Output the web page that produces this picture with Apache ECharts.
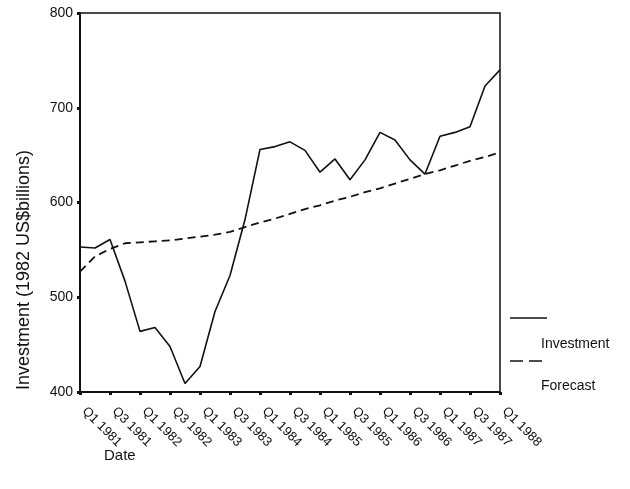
<!DOCTYPE html>
<html>
<head>
<meta charset="utf-8">
<style>
    html, body { margin: 0; padding: 0; background: #fff; }
    #chart { width: 630px; height: 489px; }
</style>
<script src="https://cdn.jsdelivr.net/npm/echarts@6/dist/echarts.min.js"></script>
</head>
<body>
<div id="chart"></div>
<script>
var quarters = [
    'Q1 1981', 'Q2 1981', 'Q3 1981', 'Q4 1981',
    'Q1 1982', 'Q2 1982', 'Q3 1982', 'Q4 1982',
    'Q1 1983', 'Q2 1983', 'Q3 1983', 'Q4 1983',
    'Q1 1984', 'Q2 1984', 'Q3 1984', 'Q4 1984',
    'Q1 1985', 'Q2 1985', 'Q3 1985', 'Q4 1985',
    'Q1 1986', 'Q2 1986', 'Q3 1986', 'Q4 1986',
    'Q1 1987', 'Q2 1987', 'Q3 1987', 'Q4 1987',
    'Q1 1988'
];
var investment = [553, 552, 561, 517, 464, 468, 448, 409, 427, 485, 523, 582, 656, 659, 664, 655, 632, 646, 624, 645, 674, 666, 645, 630, 670, 674, 680, 723, 740];
var forecast = [527, 543, 551, 557, 558, 559, 560, 562, 564, 566, 569, 574, 579, 583, 588, 593, 597, 602, 606, 611, 615, 620, 625, 630, 634, 639, 644, 648, 653];
var yTicks = [400, 500, 600, 700, 800];

(function (window) {
    "use strict";
    var font = '"Liberation Sans", Arial, Helvetica, sans-serif';
    var ink = '#111';

    var load = function () {
        var chart = echarts.init(document.getElementById('chart'));
        var option = {
            animation: false,
            backgroundColor: '#fff',
            grid: {
                left: 80, right: 130, top: 13, bottom: 97,
                show: true,
                borderColor: ink,
                borderWidth: 1.5
            },
            xAxis: {
                type: 'category',
                data: quarters,
                boundaryGap: false,
                axisLine: { lineStyle: { color: ink, width: 2 } },
                axisTick: {
                    interval: 1,
                    length: 3,
                    lineStyle: { color: ink, width: 3 }
                },
                axisLabel: {
                    interval: 1,
                    rotate: -45,
                    margin: 13,
                    padding: [0, 0, 0, 6],
                    color: ink,
                    fontFamily: font,
                    fontSize: 13
                },
                splitLine: { show: false }
            },
            yAxis: {
                type: 'value',
                min: yTicks[0],
                max: yTicks[yTicks.length - 1],
                interval: 100,
                axisLine: { show: true, lineStyle: { color: ink, width: 2 } },
                axisTick: {
                    show: true,
                    length: 3,
                    lineStyle: { color: ink, width: 3 }
                },
                axisLabel: {
                    margin: 7,
                    color: ink,
                    fontFamily: font,
                    fontSize: 14
                },
                splitLine: { show: false }
            },
            series: [{
                name: 'Investment',
                type: 'line',
                data: investment,
                symbol: 'none',
                lineStyle: { color: ink, width: 1.6 }
            }, {
                name: 'Forecast',
                type: 'line',
                data: forecast,
                symbol: 'none',
                lineStyle: { color: ink, width: 1.8, type: [8, 5] }
            }],
            graphic: [{
                // y axis title
                type: 'text',
                x: 24, y: 270,
                rotation: Math.PI / 2,
                style: {
                    text: 'Investment (1982 US$billions)',
                    fill: ink,
                    font: '18px ' + font,
                    align: 'center',
                    verticalAlign: 'middle'
                }
            }, {
                type: 'text',
                x: 104, y: 456,
                style: {
                    text: 'Date',
                    fill: ink,
                    font: '15px ' + font,
                    verticalAlign: 'middle'
                }
            }, {
                // legend, drawn by hand to keep the offset layout
                type: 'line',
                shape: { x1: 510, y1: 318, x2: 547, y2: 318 },
                style: { stroke: ink, lineWidth: 1.5 }
            }, {
                type: 'text',
                x: 541, y: 344,
                style: {
                    text: 'Investment',
                    fill: ink,
                    font: '14px ' + font,
                    verticalAlign: 'middle'
                }
            }, {
                type: 'line',
                shape: { x1: 510, y1: 361, x2: 547, y2: 361 },
                style: { stroke: ink, lineWidth: 1.5, lineDash: [13, 6] }
            }, {
                type: 'text',
                x: 541, y: 386,
                style: {
                    text: 'Forecast',
                    fill: ink,
                    font: '14px ' + font,
                    verticalAlign: 'middle'
                }
            }]
        };
        chart.setOption(option);
    };

    window.addEventListener('load', load, false);
})(window);
</script>
</body>
</html>
